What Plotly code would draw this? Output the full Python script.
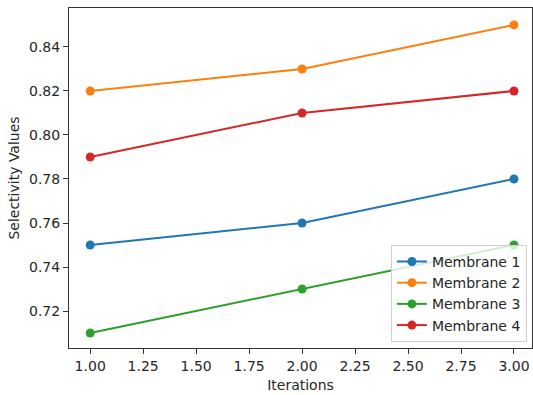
import plotly.graph_objects as go

iterations = [1, 2, 3]
membrane_1 = [0.75, 0.76, 0.78]
membrane_2 = [0.82, 0.83, 0.85]
membrane_3 = [0.71, 0.73, 0.75]
membrane_4 = [0.79, 0.81, 0.82]
series_names = ["Membrane 1", "Membrane 2", "Membrane 3", "Membrane 4"]
colors = ["#1f77b4", "#ff7f0e", "#2ca02c", "#d62728"]
x_ticks = [1.0, 1.25, 1.5, 1.75, 2.0, 2.25, 2.5, 2.75, 3.0]
y_ticks = [0.72, 0.74, 0.76, 0.78, 0.80, 0.82, 0.84]

fig = go.Figure()
for name, vals, c in zip(series_names, [membrane_1, membrane_2, membrane_3, membrane_4], colors):
    fig.add_trace(go.Scatter(
        x=iterations, y=vals, name=name, mode="lines+markers",
        line=dict(color=c, width=2), marker=dict(color=c, size=9),
    ))

font = dict(family="DejaVu Sans", size=14, color="#262626")
axis_common = dict(
    showline=True, linecolor="#333", linewidth=1, mirror=True,
    ticks="outside", ticklen=5, tickcolor="#333", tickwidth=1,
    showgrid=False, zeroline=False, tickfont=font, automargin=False,
)
fig.update_layout(
    width=533, height=395,
    margin=dict(l=69, r=1, t=8, b=47),
    paper_bgcolor="white", plot_bgcolor="white",
    font=font,
    xaxis=dict(range=[0.9, 3.085], tickvals=x_ticks,
               ticktext=[f"{v:.2f}" for v in x_ticks],
               title=dict(text="Iterations", font=font, standoff=7), **axis_common),
    yaxis=dict(range=[0.7032, 0.8577], tickvals=y_ticks,
               ticktext=[f"{v:.2f}" for v in y_ticks],
               title=dict(text="Selectivity Values", font=font, standoff=6), **axis_common),
    legend=dict(x=0.989, y=0.018, xanchor="right", yanchor="bottom",
                bgcolor="rgba(255,255,255,0.8)", bordercolor="#d0d0d0", borderwidth=1,
                font=font, tracegroupgap=0, itemwidth=30),
    showlegend=True,
)
fig.write_html("out.html", config={"displayModeBar": False},
               post_script="document.body.style.margin='0';document.body.style.overflow='hidden';")
